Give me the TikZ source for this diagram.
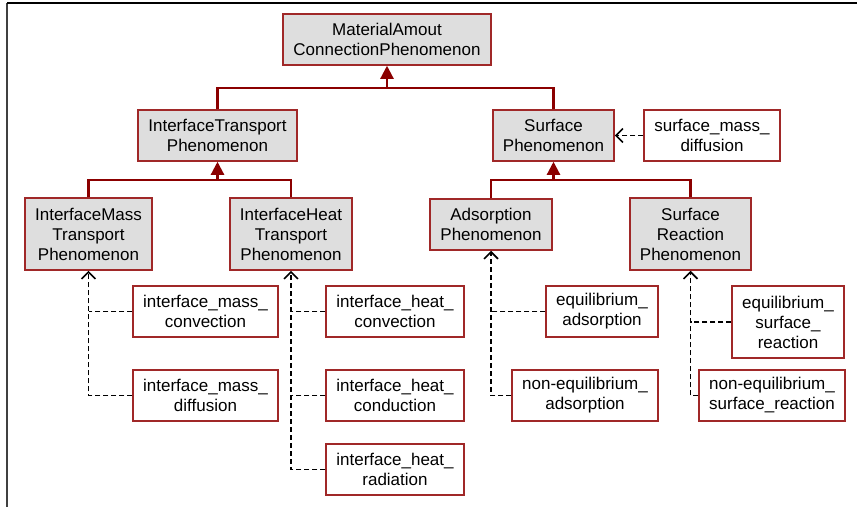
\documentclass[tikz,border=0pt]{standalone}
\usepackage{fontspec}
\setmainfont{Liberation Sans}
\usetikzlibrary{arrows.meta}
\definecolor{boxred}{RGB}{160,40,40}
\definecolor{genred}{RGB}{139,0,0}
\definecolor{boxgray}{RGB}{222,222,222}

\begin{document}
\begin{tikzpicture}[x=1pt,y=-1pt,
  font=\fontsize{17}{20}\selectfont,
  clase/.style={draw=boxred,line width=1.5pt,fill=boxgray,align=center,inner sep=0pt,minimum height=51pt},
  inst/.style={draw=boxred,line width=1.5pt,fill=white,align=center,inner sep=0pt,minimum height=51pt},
  gen/.style={genred,line width=2.2pt,-{Triangle[length=13pt,width=13pt]}},
  genln/.style={genred,line width=2.2pt},
  depln/.style={black,line width=1.6pt,dash pattern=on 5pt off 3pt},
  dep/.style={depln,-{Straight Barb[length=7pt,width=14pt,line width=1.6pt]}}]
  \useasboundingbox (0,0) rectangle (858,507);
  % marco
  \draw[line width=2.4pt,black!75] (7,3) -- (7,507);
  \draw[line width=1.2pt] (7,3) -- (857,3);
  % clases
  \node[clase,minimum width=208pt] (mac) at (387,39.5) {MaterialAmout\\ConnectionPhenomenon};
  \node[clase,minimum width=159pt] (itp) at (217.5,135.5) {InterfaceTransport\\Phenomenon};
  \node[clase,minimum width=121pt] (sp) at (553.5,135.5) {Surface\\Phenomenon};
  \node[clase,minimum width=127pt,minimum height=72pt] (imt) at (88.5,234) {InterfaceMass\\Transport\\Phenomenon};
  \node[clase,minimum width=122pt,minimum height=72pt] (iht) at (291,234) {InterfaceHeat\\Transport\\Phenomenon};
  \node[clase,minimum width=122pt] (ap) at (491,224.5) {Adsorption\\Phenomenon};
  \node[clase,minimum width=121pt,minimum height=72pt] (srp) at (690.5,234) {Surface\\Reaction\\Phenomenon};
  % instancias
  \node[inst,minimum width=136pt] (smd) at (712,135.5) {surface\_mass\_\\diffusion};
  \node[inst,minimum width=145pt] (imc) at (205.5,311.5) {interface\_mass\_\\convection};
  \node[inst,minimum width=145pt] (imd) at (205.5,395.5) {interface\_mass\_\\diffusion};
  \node[inst,minimum width=138pt] (ihc) at (395,311.5) {interface\_heat\_\\convection};
  \node[inst,minimum width=138pt] (ihd) at (395,395.5) {interface\_heat\_\\conduction};
  \node[inst,minimum width=138pt] (ihr) at (395,469.5) {interface\_heat\_\\radiation};
  \node[inst,minimum width=112pt] (eqa) at (602,311.5) {equilibrium\_\\adsorption};
  \node[inst,minimum width=146pt] (nea) at (585,395.5) {non-equilibrium\_\\adsorption};
  \node[inst,minimum width=112pt,minimum height=72pt] (eqs) at (788,322) {equilibrium\_\\surface\_\\reaction};
  \node[inst,minimum width=146pt] (nes) at (772,395.5) {non-equilibrium\_\\surface\_reaction};
  % barras de herencia
  \coordinate (b0) at (387,88);
  \coordinate (b1) at (217.5,180);
  \coordinate (b2) at (553.5,180);
  \draw[gen] (itp.north) |- (b0) -- (mac.south);
  \draw[genln] (sp.north) |- (b0);
  \draw[gen] (imt.north) |- (b1) -- (itp.south);
  \draw[genln] (iht.north) |- (b1);
  \draw[gen] (ap.north) |- (b2) -- (sp.south);
  \draw[genln] (srp.north) |- (b2);
  % instancias -> clases (la vertical se dibuja una vez)
  \draw[dep] (smd.west) -- (sp.east);
  \draw[dep] (imd.west) -| (imt.south);
  \draw[depln] (imc.west) -- (imc.west -| imt.south);
  \draw[dep] (ihr.west) -| (iht.south);
  \draw[depln] (ihd.west) -- (ihd.west -| iht.south);
  \draw[depln] (ihc.west) -- (ihc.west -| iht.south);
  \draw[dep] (nea.west) -| (ap.south);
  \draw[depln] (eqa.west) -- (eqa.west -| ap.south);
  \draw[dep] (nes.west) -| (srp.south);
  \draw[depln] (eqs.west) -- (eqs.west -| srp.south);
\end{tikzpicture}
\end{document}
